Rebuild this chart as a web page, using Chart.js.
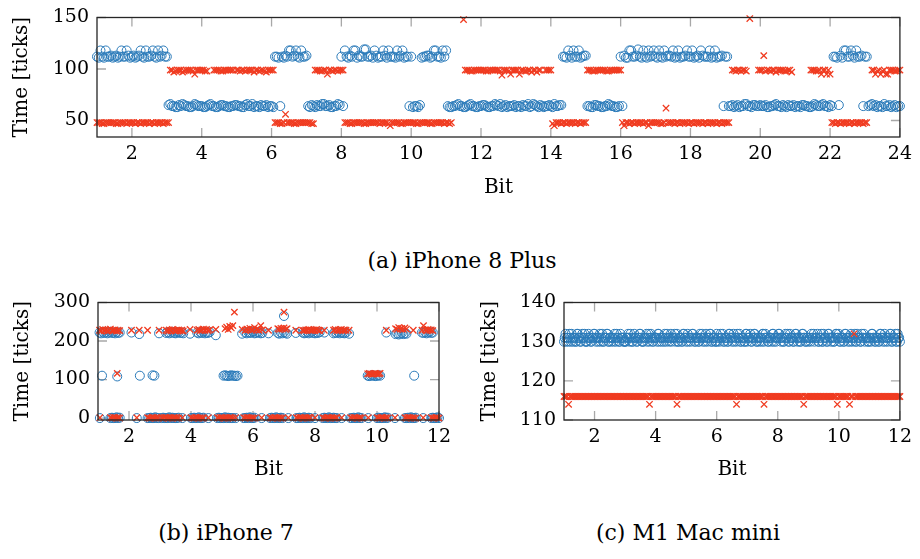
<!DOCTYPE html>
<html>
<head>
<meta charset="utf-8">
<script src="https://cdn.jsdelivr.net/npm/chart.js@4.4.1/dist/chart.umd.min.js"></script>
<style>
  body { margin: 0; background: #fff; }
  #wrap { position: relative; width: 920px; height: 559px; font-family: "DejaVu Serif", "Liberation Serif", serif; color: #000; }
  canvas { position: absolute; }
  .cap { position: absolute; font-size: 22px; line-height: 22px; white-space: nowrap; transform: translate(-50%, -50%); }
</style>
</head>
<body>
<div id="wrap">
  <canvas id="chartA" width="920" height="210" style="left:0;top:0"></canvas>
  <canvas id="chartB" width="460" height="200" style="left:0;top:285px"></canvas>
  <canvas id="chartC" width="460" height="200" style="left:460px;top:285px"></canvas>
  <div class="cap" style="left:462px;top:261px">(a) iPhone 8 Plus</div>
  <div class="cap" style="left:226px;top:533px">(b) iPhone 7</div>
  <div class="cap" style="left:688px;top:533px">(c) M1 Mac mini</div>
</div>
<script>
// ---- (a) iPhone 8 Plus: samples every 0.1 bit from bit 1, plus a second pass shifted by 0.05
const startA = 1, startA2 = 1.05, stepA = 0.1;
const blueA = [
  112,118,111,112,113,112,111,118,112,113,
  112,111,113,112,118,112,118,111,112,118,
  112,66,64,63,64,65,64,63,66,64,
  64,63,65,64,63,64,65,64,63,64,
  65,64,63,66,64,63,64,65,64,63,
  64,112,111,112,113,118,112,118,111,112,
  113,63,64,65,64,66,64,63,64,66,
  112,118,111,112,118,113,112,119,112,111,
  113,112,118,111,112,112,118,113,111,112,
  112,64,63,111,112,113,112,118,112,118,
  118,63,64,65,64,63,64,66,64,63,
  64,65,63,64,66,64,63,65,64,64,
  63,64,65,64,63,66,64,65,63,64,
  64,66,64,65,112,118,111,112,118,112,
  113,64,63,65,64,63,64,65,64,63,
  112,113,111,118,112,119,111,112,118,113,
  112,118,111,112,113,118,112,111,112,118,
  112,111,113,118,112,112,111,118,112,113,
  112,64,65,64,63,64,66,64,65,64,
  65,64,63,64,65,64,63,64,65,64,
  63,64,65,64,63,64,65,64,66,64,
  65,112,111,113,118,112,118,111,112,113,
  112,64,66,65,64,63,64,65,64,63,
  64
];
const blueA2 = [
  111,112,118,112,111,113,112,112,118,111,
  113,112,118,111,112,113,112,118,113,112,
  65,64,63,65,66,64,63,64,65,64,
  63,64,66,64,63,65,64,63,64,65,
  64,63,65,64,66,64,63,64,65,64,
  63,112,64,111,112,118,113,112,118,112,
  64,65,63,64,66,64,65,63,64,65,
  64,112,113,118,111,112,119,112,113,118,
  111,112,113,118,112,111,112,118,112,64,
  63,64,65,112,113,111,118,112,111,112,
  64,63,64,66,64,63,65,64,63,64,
  65,64,63,64,65,66,64,63,64,65,
  64,63,64,66,64,65,63,64,64,65,
  63,64,65,112,111,113,118,112,111,113,
  64,63,65,64,63,64,66,64,63,64,
  64,111,118,112,113,112,118,111,112,118,
  111,112,118,113,112,111,118,112,113,112,
  118,112,111,113,112,118,112,111,112,64,
  112,64,63,65,64,66,64,63,65,64,
  64,65,63,64,66,64,65,63,64,65,
  64,63,65,64,63,66,64,65,64,63,
  64,112,65,111,118,112,113,118,112,64,
  112,65,64,63,64,66,64,63,65,64
];
const redA = [
  48,48,47,48,48,48,47,48,48,48,
  48,47,48,48,48,47,48,48,48,47,
  48,99,97,99,99,98,99,99,95,99,
  99,98,null,null,99,99,98,99,99,99,
  99,98,99,99,99,97,99,99,98,99,
  99,48,48,47,56,48,48,47,48,48,
  48,48,47,99,98,99,95,99,99,98,
  99,48,48,47,48,48,48,47,48,48,
  48,47,48,48,45,48,48,47,48,48,
  48,48,47,48,48,48,47,48,48,48,
  48,47,null,null,null,148,99,98,99,99,
  99,99,98,99,99,99,94,99,98,99,
  99,95,99,98,99,99,97,99,null,99,
  99,45,48,47,48,48,48,47,48,48,
  48,99,98,99,99,99,98,99,99,99,
  99,45,48,48,47,48,48,48,45,48,
  48,48,47,62,48,48,48,47,48,48,
  48,47,48,48,48,47,48,48,48,47,
  48,48,99,98,99,99,98,149,null,null,
  99,113,99,98,99,99,99,98,99,97,
  null,null,null,null,null,99,98,99,99,95,
  95,48,48,47,48,48,48,47,48,48,
  48,null,99,95,99,98,95,99,99,98,
  99
];
const redA2 = [
  48,47,48,48,48,47,48,48,47,48,
  48,48,47,48,48,48,47,48,48,48,
  48,99,98,99,97,99,99,98,99,99,
  99,98,null,99,99,98,99,99,99,null,
  99,99,98,99,99,99,98,99,97,99,
  99,48,47,48,48,48,47,48,48,48,
  48,47,99,99,98,99,99,98,99,99,
  99,48,47,48,48,48,47,48,48,48,
  48,48,48,47,48,48,48,47,48,48,
  48,47,48,48,48,47,48,48,48,47,
  48,48,null,null,null,99,99,98,99,99,
  99,98,99,99,99,98,99,99,95,99,
  99,99,98,99,97,99,99,null,99,99,
  47,48,48,48,47,48,48,48,47,48,
  99,99,98,99,99,99,98,99,99,99,
  48,48,47,48,48,48,47,48,48,48,
  48,47,48,48,48,47,48,48,48,47,
  48,48,48,47,48,48,48,47,48,48,
  48,null,99,99,98,99,null,null,null,99,
  99,98,99,99,97,99,99,98,99,null,
  null,null,null,null,99,99,98,95,99,99,
  48,47,48,48,48,47,48,48,48,47,
  48,null,99,98,95,99,95,99,98,99
];
const xTicksA = [2, 4, 6, 8, 10, 12, 14, 16, 18, 20, 22, 24];
const yTicksA = [50, 100, 150];

// ---- (b) iPhone 7: samples near 0
const b7LowX = [
  1.06,
  1.40,1.45,1.50,1.55,1.60,1.65,1.70,
  2.25,
  2.60,2.65,2.70,2.75,2.80,2.85,2.90,2.95,
  3.05,3.10,3.15,3.20,3.25,3.30,3.35,3.40,3.45,3.50,3.55,3.60,
  3.72,
  4.00,4.05,4.10,4.15,4.20,4.25,4.30,4.35,4.40,
  4.56,
  4.85,4.90,4.95,5.00,5.05,5.10,5.15,5.20,5.25,5.30,5.35,
  5.44,
  5.70,5.75,5.80,5.85,5.90,5.95,6.00,6.05,
  6.28,
  6.55,6.60,6.65,6.70,6.75,6.80,6.85,6.90,6.95,
  7.14,
  7.40,7.45,7.50,7.55,7.60,7.65,7.70,7.75,7.80,7.85,
  8.00,
  8.25,8.30,8.35,8.40,8.45,8.50,8.55,8.60,8.65,8.70,
  8.86,
  9.15,9.20,9.25,9.30,9.35,9.40,9.45,9.50,
  9.72,
  10.00,10.05,10.10,10.15,10.20,10.25,10.30,10.35,
  10.58,
  10.90,10.95,11.00,11.05,11.10,11.15,11.20,11.25,
  11.49,
  11.75,11.80,11.85,11.90,11.95,12.00
];
const b7BlueLow = [
  0,
  0,1,0,0,2,0,1,
  0,
  0,0,1,0,0,2,0,0,
  0,1,0,0,0,2,0,1,0,0,0,1,
  0,
  0,0,1,0,0,2,0,0,1,
  0,
  0,1,0,0,0,2,0,1,0,0,0,
  0,
  0,0,1,0,2,0,0,1,
  0,
  0,1,0,0,2,0,0,1,0,
  0,
  0,0,1,0,0,2,0,0,1,0,
  0,
  0,1,0,0,2,0,0,1,0,0,
  0,
  0,0,1,0,0,2,0,0,
  0,
  0,1,0,0,0,2,0,1,
  0,
  0,0,1,0,2,0,0,1,
  0,
  0,1,0,0,2,0
];
const b7RedLow = [
  1,
  1,0,2,1,0,1,0,
  1,
  1,0,0,2,1,0,1,0,
  1,0,2,1,0,0,1,0,2,1,0,0,
  1,
  1,0,0,2,1,0,1,0,0,
  1,
  1,0,2,1,0,0,1,0,2,1,0,
  1,
  1,0,2,1,0,1,0,0,
  1,
  1,0,0,2,1,0,1,0,0,
  1,
  1,0,2,1,0,0,1,0,2,1,
  1,
  1,0,0,2,1,0,1,0,0,1,
  1,
  1,0,2,1,0,0,1,0,
  1,
  1,0,0,2,1,0,1,0,
  1,
  1,0,2,1,0,1,0,0,
  1,
  1,0,0,2,1,0
];
// samples near 220-230
const b7HighX = [
  1.05,1.10,1.15,1.20,1.25,1.30,1.35,1.40,1.45,1.50,1.55,1.60,1.65,1.70,
  2.08,2.33,2.60,2.97,
  3.20,3.25,3.30,3.35,3.40,3.45,3.50,3.55,3.60,3.65,3.70,3.75,
  3.97,
  4.20,4.25,4.30,4.35,4.40,4.45,4.50,4.55,4.60,
  4.80,
  5.10,5.15,5.20,5.25,5.30,5.35,
  5.65,
  5.75,5.80,5.85,5.90,5.95,6.00,6.05,6.10,6.15,6.20,6.25,6.30,
  6.50,
  6.80,6.85,6.90,6.95,7.00,7.05,7.10,
  7.38,
  7.60,7.65,7.70,7.75,7.80,7.85,7.90,7.95,8.00,8.05,8.10,8.15,
  8.30,
  8.60,8.65,8.70,8.75,8.80,8.85,8.90,8.95,9.00,
  9.10,
  10.30,
  10.60,10.65,10.70,10.75,10.80,10.85,10.90,10.95,
  11.17,
  11.45,11.50,11.55,11.60,11.65,11.70,11.75,11.80
];
const b7BlueHigh = [
  222,220,224,221,223,220,222,224,221,222,220,223,221,222,
  222,218,null,220,
  221,223,220,222,224,221,220,222,223,221,222,220,
  219,
  222,220,223,221,224,220,222,221,223,
  215,
  null,null,null,null,null,null,
  219,
  222,220,223,221,222,224,220,221,223,222,220,221,
  220,
  221,219,222,220,223,221,219,
  221,
  222,220,221,223,220,222,224,221,220,222,221,223,
  222,
  220,222,221,223,220,222,221,220,222,
  219,
  222,
  218,220,217,219,221,218,220,219,
  null,
  222,221,223,220,222,224,221,222
];
const b7RedHigh = [
  228,226,230,227,229,226,228,231,227,228,229,226,228,227,
  228,228,228,228,
  228,226,229,227,230,228,226,228,229,227,228,226,
  230,
  228,230,227,229,231,228,230,227,229,
  230,
  232,236,230,238,234,240,
  230,
  228,231,229,233,228,230,235,229,231,228,240,229,
  228,
  232,230,233,231,234,230,232,
  228,
  228,227,229,228,230,228,227,229,228,230,228,227,
  228,
  228,230,227,229,228,230,227,229,228,
  228,
  228,
  232,230,235,231,233,230,234,231,
  228,
  228,240,229,227,230,228,229,227
];
// samples near 110 and the few above 250
const b7MidX = [1.13,1.62,2.35,2.76,2.82, 5.05,5.10,5.15,5.20,5.25,5.30,5.35,5.40,5.45,5.50,
  9.70,9.75,9.80,9.85,9.90,9.95,10.00,10.05,10.10, 11.20, 5.40, 7.00];
const b7BlueMid = [110,108,110,111,110, 110,111,110,109,110,111,110,110,109,110,
  110,109,110,111,110,109,110,111,110, 110, null, 265];
const b7RedMid = [null,116,null,null,null, null,null,null,null,null,null,null,null,null,null,
  115,116,115,114,115,116,115,115,116, null, 275, 275];
const xTicksB = [2, 4, 6, 8, 10, 12];
const yTicksB = [0, 100, 200, 300];

// ---- (c) M1 Mac mini: samples every 0.05 bit from bit 1, plus a blue pass shifted by 0.025
const startC = 1, startC2 = 1.025, stepC = 0.05;
const blueC = [
  130,132,131,130,131,132,130,131,130,132,131,130,132,131,130,130,132,131,130,131,
  132,130,131,131,130,132,130,131,132,130,131,130,131,132,130,131,130,132,131,130,
  130,131,132,130,131,130,132,131,130,131,132,130,130,131,132,131,130,132,130,131,
  131,130,132,131,130,131,132,130,131,130,132,131,131,130,132,130,131,130,132,131,
  130,132,131,130,132,131,130,131,130,132,131,130,131,132,130,131,132,130,131,130,
  132,131,130,131,132,130,131,130,132,131,130,132,131,130,131,132,130,131,130,132,
  130,131,132,130,131,132,130,131,130,131,132,130,132,131,130,131,130,132,131,130,
  131,132,130,131,130,132,131,130,132,131,130,131,132,130,131,130,132,131,130,131,
  130,131,132,131,130,131,132,130,131,130,132,131,130,132,131,130,131,130,132,131,
  132,130,131,130,132,131,130,131,132,130,131,130,132,131,130,132,131,130,131,130,
  131,130,132,131,130,131,130,132,131,130,132,131,130,131,132,130,131,132,130,131,
  130
];
const blueC2 = [
  131,130,131,132,130,131,131,130,132,131,130,131,131,132,130,131,131,130,131,132,
  131,131,130,132,131,130,131,131,132,130,131,131,130,131,132,131,130,131,131,130,
  130,131,131,132,130,131,131,130,131,132,131,130,131,131,130,132,131,131,130,131,
  131,132,130,131,131,130,131,132,131,131,130,131,132,131,130,131,131,130,132,131,
  131,130,131,131,132,130,131,131,130,131,132,131,130,131,131,132,130,131,131,130,
  130,131,132,131,130,131,131,130,132,131,131,130,131,132,131,130,131,131,130,132,
  131,131,130,131,132,131,130,131,131,130,132,131,131,130,131,131,132,130,131,131,
  132,131,131,130,131,131,132,130,131,131,130,132,131,131,130,131,132,131,130,131,
  131,130,131,132,131,131,130,131,132,130,131,131,130,132,131,131,130,131,132,131,
  130,131,131,130,132,131,131,130,131,131,132,130,131,131,130,131,132,131,131,130,
  131,132,131,130,131,131,130,132,131,131,130,131,131,132,130,131,131,130,132,131
];
const redC = [
  116,116,116,114,116,116,116,116,116,116,116,116,116,116,116,116,116,116,116,116,
  116,116,116,116,116,116,116,116,116,116,116,116,116,116,116,116,116,116,116,116,
  116,116,116,116,116,116,116,116,116,116,116,116,116,116,116,116,114,116,116,116,
  116,116,116,116,116,116,116,116,116,116,116,116,116,116,114,116,116,116,116,116,
  116,116,116,116,116,116,116,116,116,116,116,116,116,116,116,116,116,116,116,116,
  116,116,116,116,116,116,116,116,116,116,116,116,116,114,116,116,116,116,116,116,
  116,116,116,116,116,116,116,116,116,116,116,114,116,116,116,116,116,116,116,116,
  116,116,116,116,116,116,116,116,116,116,116,116,116,116,116,116,116,114,116,116,
  116,116,116,116,116,116,116,116,116,116,116,116,116,116,116,116,116,116,116,114,
  116,116,116,116,116,116,116,114,116,116,132,116,116,116,116,116,116,116,116,116,
  116,116,116,116,116,116,116,116,116,116,116,116,116,116,116,116,116,116,116,116,
  116
];
const xTicksC = [2, 4, 6, 8, 10, 12];
const yTicksC = [110, 120, 130, 140];

const BLUE = '#2a7ab9';
const RED = '#f03b20';
const FAMILY = "'DejaVu Serif', 'Liberation Serif', serif";
const tickFont = { family: FAMILY, size: 19, lineHeight: 1 };
const titleFont = { family: FAMILY, size: 20, lineHeight: 1 };

function gridPoints(start, step, ys) {
  const out = [];
  ys.forEach((y, i) => { if (y !== null) out.push({ x: start + i * step, y: y }); });
  return out;
}
function pairPoints(xs, ys) {
  const out = [];
  xs.forEach((x, i) => { if (ys[i] !== null) out.push({ x: x, y: ys[i] }); });
  return out;
}

function blueSet(data) {
  return { data, order: 1, clip: false, showLine: false,
    pointStyle: 'circle', pointRadius: 4.5, pointBorderWidth: 1,
    pointBorderColor: BLUE, pointBackgroundColor: 'rgba(0,0,0,0)' };
}
function redSet(data) {
  return { data, order: 0, clip: false, showLine: false,
    pointStyle: 'crossRot', pointRadius: 4.5, pointBorderWidth: 1.3,
    pointBorderColor: RED, pointBackgroundColor: RED };
}

// ticks drawn inward on all four sides, plus the axis box
const frame = {
  id: 'frame',
  beforeDatasetsDraw(chart) {
    const { ctx, chartArea: a, scales: { x, y } } = chart;
    const len = 9;
    ctx.save();
    ctx.strokeStyle = '#a8a8a8';
    ctx.lineWidth = 1.3;
    ctx.beginPath();
    x.ticks.forEach(t => {
      const px = x.getPixelForValue(t.value);
      ctx.moveTo(px, a.bottom); ctx.lineTo(px, a.bottom - len);
      ctx.moveTo(px, a.top); ctx.lineTo(px, a.top + len);
    });
    y.ticks.forEach(t => {
      const py = y.getPixelForValue(t.value);
      ctx.moveTo(a.left, py); ctx.lineTo(a.left + len, py);
      ctx.moveTo(a.right, py); ctx.lineTo(a.right - len, py);
    });
    ctx.stroke();
    ctx.restore();
  },
  afterDraw(chart) {
    const { ctx, chartArea: a } = chart;
    ctx.save();
    ctx.strokeStyle = '#262626';
    ctx.lineWidth = 1.3;
    ctx.strokeRect(a.left, a.top, a.right - a.left, a.bottom - a.top);
    ctx.restore();
  }
};

function axis(min, max, tickVals, label, size, titlePad, isX) {
  return {
    type: 'linear', min: min, max: max,
    grid: { display: false, drawTicks: false },
    border: { display: false },
    ticks: { color: '#000', font: tickFont, padding: 8, maxRotation: 0 },
    afterBuildTicks: s => { s.ticks = tickVals.map(v => ({ value: v })); },
    afterFit: s => { if (isX) s.height = size; else s.width = size; },
    title: { display: true, text: label, color: '#000', font: titleFont, padding: titlePad }
  };
}

function makeChart(id, datasets, o) {
  return new Chart(document.getElementById(id), {
    type: 'scatter',
    data: { datasets },
    options: {
      responsive: false,
      animation: false,
      events: [],
      layout: { padding: o.pad },
      plugins: { legend: { display: false }, tooltip: { enabled: false } },
      scales: {
        x: axis(o.x[0], o.x[1], o.xTicks, 'Bit', o.xH, { top: 0, bottom: o.xTitle }, true),
        y: axis(o.y[0], o.y[1], o.yTicks, 'Time [ticks]', o.yW, { top: o.yTitle, bottom: 0 }, false)
      }
    },
    plugins: [frame]
  });
}

makeChart('chartA', [
  blueSet(gridPoints(startA, stepA, blueA).concat(gridPoints(startA2, stepA, blueA2))),
  redSet(gridPoints(startA, stepA, redA).concat(gridPoints(startA2, stepA, redA2)))
], { pad: { left: 0, right: 19, top: 15, bottom: 0 }, x: [1, 24], y: [34, 150],
     xTicks: xTicksA, yTicks: yTicksA, xH: 73, yW: 97, xTitle: 12, yTitle: 12 });

makeChart('chartB', [
  blueSet(pairPoints(b7LowX, b7BlueLow).concat(pairPoints(b7HighX, b7BlueHigh), pairPoints(b7MidX, b7BlueMid))),
  redSet(pairPoints(b7LowX, b7RedLow).concat(pairPoints(b7HighX, b7RedHigh), pairPoints(b7MidX, b7RedMid)))
], { pad: { left: 0, right: 21, top: 11, bottom: 0 }, x: [1, 12], y: [-5, 300],
     xTicks: xTicksB, yTicks: yTicksB, xH: 65, yW: 98, xTitle: 5, yTitle: 13 });

makeChart('chartC', [
  blueSet(gridPoints(startC, stepC, blueC).concat(gridPoints(startC2, stepC, blueC2))),
  redSet(gridPoints(startC, stepC, redC))
], { pad: { left: 0, right: 14, top: 11, bottom: 0 }, x: [1, 12], y: [110, 140],
     xTicks: xTicksC, yTicks: yTicksC, xH: 65, yW: 104, xTitle: 5, yTitle: 20 });
</script>
</body>
</html>
